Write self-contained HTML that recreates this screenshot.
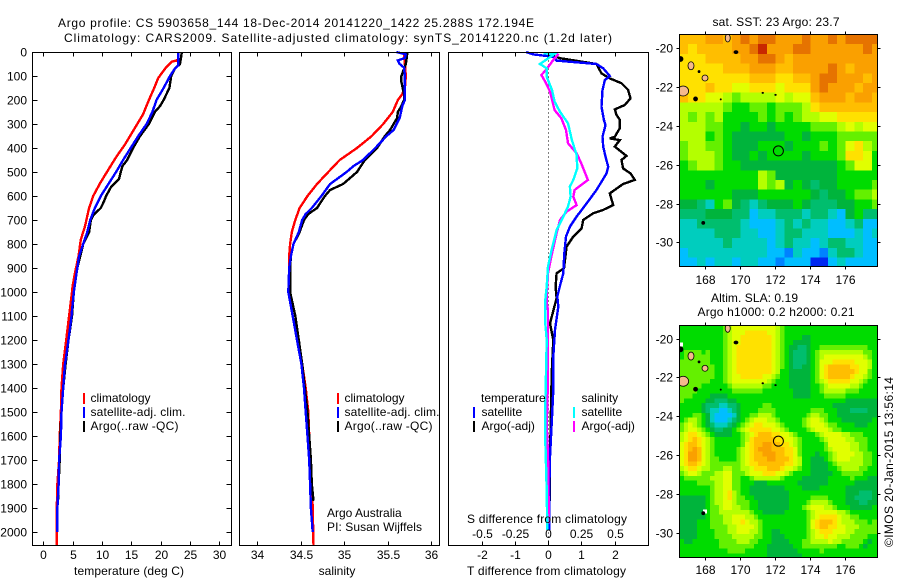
<!DOCTYPE html>
<html>
<head>
<meta charset="utf-8">
<title>Argo profile</title>
<style>
html,body{margin:0;padding:0;background:#fff;}
svg{display:block;}
text{font-family:"Liberation Sans",sans-serif;font-size:12px;fill:#000;}
</style>
</head>
<body>
<svg id="fig" xmlns="http://www.w3.org/2000/svg" width="900" height="580" viewBox="0 0 900 580">
  <rect width="900" height="580" fill="#fff"/>
  <text x="58" y="27" textLength="476">Argo profile: CS 5903658_144 18-Dec-2014 20141220_1422 25.288S 172.194E</text>
  <text x="64" y="42" textLength="548">Climatology: CARS2009. Satellite-adjusted climatology: synTS_20141220.nc (1.2d later)</text>

  <g id="p1"></g>
  <g id="p2"></g>
  <g id="p3"></g>
  <g id="m1"></g>
  <g id="m2"></g>

  <text x="129" y="575" text-anchor="middle" textLength="110">temperature (deg C)</text>
  <text x="337" y="575" text-anchor="middle">salinity</text>
  <text x="467" y="575" textLength="159">T difference from climatology</text>
  <text x="467" y="523" textLength="160">S difference from climatology</text>

  <g>
    <rect x="83" y="393" width="2" height="11" fill="#f00"/>
    <rect x="83" y="407" width="2" height="11" fill="#00f"/>
    <rect x="83" y="421" width="2" height="11" fill="#000"/>
    <text x="90.5" y="402">climatology</text>
    <text x="90.5" y="416" textLength="95">satellite-adj. clim.</text>
    <text x="90.5" y="430" textLength="88">Argo(..raw -QC)</text>
  </g>
  <g>
    <rect x="337" y="393" width="2" height="11" fill="#f00"/>
    <rect x="337" y="407" width="2" height="11" fill="#00f"/>
    <rect x="337" y="421" width="2" height="11" fill="#000"/>
    <text x="344.5" y="402">climatology</text>
    <text x="344.5" y="416" textLength="95">satellite-adj. clim.</text>
    <text x="344.5" y="430" textLength="88">Argo(..raw -QC)</text>
    <text x="327" y="517">Argo Australia</text>
    <text x="327" y="531" textLength="95">PI: Susan Wijffels</text>
  </g>
  <g>
    <text x="481" y="402">temperature</text>
    <rect x="473" y="407" width="2" height="11" fill="#00f"/>
    <rect x="473" y="421" width="2" height="11" fill="#000"/>
    <text x="481.5" y="416">satellite</text>
    <text x="481.5" y="430">Argo(-adj)</text>
    <text x="581.5" y="402">salinity</text>
    <rect x="573" y="407" width="2" height="11" fill="#0ff"/>
    <rect x="573" y="421" width="2" height="11" fill="#f0f"/>
    <text x="581.5" y="416">satellite</text>
    <text x="581.5" y="430">Argo(-adj)</text>
  </g>

  <text x="712.5" y="26" textLength="127">sat. SST: 23 Argo: 23.7</text>
  <text x="711" y="302" textLength="87">Altim. SLA: 0.19</text>
  <text x="697.5" y="316" textLength="157">Argo h1000: 0.2 h2000: 0.21</text>
  <text transform="translate(893,547) rotate(-90)" textLength="170">©IMOS 20-Jan-2015 13:56:14</text>
</svg>
<script>
/* ---------- chart data ---------- */
const depthTicks = [0,100,200,300,400,500,600,700,800,900,1000,1100,1200,1300,1400,1500,1600,1700,1800,1900,2000];
const tempTicks = [0,5,10,15,20,25,30];
const salTicks = [34,34.5,35,35.5,36];
const tDiffTicks = [-2,-1,0,1,2];
const sDiffTicks = [-0.5,-0.25,0,0.25,0.5];
const sDiffTickLabels = ["-0.5","-0.25","0","0.25","0.5"];
const lonTicks = [168,170,172,174,176];
const latTicks = [-20,-22,-24,-26,-28,-30];

const tempDepthClim = [0,30,36,40,65,108,150,200,260,317,386,435,490,546,600,650,726,782,851,920,976,1000,1100,1200,1300,1400,1500,1600,1700,1800,1900,2000,2055];
const tempClim = [23.0,23.0,22.7,21.9,20.9,19.6,18.9,18.0,17.0,15.6,13.9,12.5,11.1,9.7,8.5,7.8,7.1,6.4,6.0,5.4,5.0,4.9,4.4,3.9,3.4,3.1,3.0,2.8,2.7,2.4,2.3,2.3,2.3];
const tempDepthSat = [0,55,70,100,150,200,250,300,350,400,450,500,550,600,650,700,750,800,850,900,1000,1100,1200,1300,1400,1500,1600,1700,1800,1900,2000];
const tempSat = [23,23,22.4,21.6,20.5,19.3,18.6,17.6,16.2,14.9,13.6,12.4,11.1,9.8,8.8,8,7.5,6.8,6.1,5.8,5.2,4.8,4.3,3.7,3.4,3.1,3,2.7,2.6,2.4,2.4];
const tempDepthArgo = [0,20,50,70,100,150,200,225,250,300,350,400,450,475,500,530,560,600,625,650,680,700,750,800,900,1000,1100,1200,1300,1400,1500,1600,1700,1800,1870];
const tempArgo = [23.6,23.5,23.3,22.4,21.8,21.5,20.5,19.9,19,18,16.5,15.3,14.3,13.5,13.2,12.9,11.6,10.7,10.3,9.8,8.5,8.1,7.8,6.8,5.8,5.2,4.9,4.3,3.8,3.4,3.1,2.9,2.8,2.6,2.5];

const salDepthClim = [0,100,150,175,200,250,300,350,400,450,500,550,600,650,700,750,800,850,950,1000,1100,1200,1300,1400,1500,1600,1700,1800,1900,2055];
const salClim = [35.69,35.71,35.70,35.67,35.62,35.56,35.45,35.32,35.15,34.95,34.82,34.69,34.58,34.49,34.44,34.40,34.38,34.37,34.37,34.38,34.44,34.48,34.52,34.56,34.59,34.60,34.62,34.63,34.64,34.65];
const salDepthSat = [0,10,25,35,50,65,100,200,225,275,325,350,400,450,475,500,550,600,650,675,700,750,800,850,900,1000,1100,1200,1300,1400,1500,1600,1700,1800,1900,2000];
const salSat = [35.60,35.71,35.70,35.62,35.64,35.69,35.70,35.70,35.67,35.64,35.57,35.49,35.36,35.22,35.11,35.03,34.84,34.74,34.63,34.56,34.52,34.48,34.42,34.39,34.37,34.36,34.41,34.46,34.51,34.54,34.56,34.58,34.60,34.61,34.62,34.64];
const salDepthArgo = [0,50,100,125,175,200,225,250,275,300,325,350,400,450,500,525,550,575,600,650,675,700,750,800,850,900,1000,1100,1200,1300,1400,1500,1600,1700,1800,1870];
const salArgo = [35.73,35.71,35.66,35.66,35.69,35.69,35.66,35.62,35.61,35.57,35.53,35.47,35.38,35.24,35.15,35.07,34.99,34.84,34.78,34.69,34.59,34.54,34.49,34.42,34.39,34.38,34.38,34.44,34.48,34.52,34.55,34.58,34.60,34.62,34.63,34.65];

const diffDepthTSat = [0,10,20,36,50,68,100,117,158,228,283,304,353,394,436,478,506,575,631,686,728,769,839,922,964,1019,1061,1158,1269,1408,1547,1686,1825,1992];
const diffTSat = [-0.66,-0.44,0.16,0.26,1.46,1.66,1.86,1.71,1.64,1.61,1.68,1.73,1.64,1.66,1.73,1.81,1.76,1.46,1.16,0.86,0.66,0.54,0.49,0.46,0.38,0.28,0.31,0.21,0.16,0.16,0.11,0.06,0.04,0.04];
const diffDepthTArgo = [12,26,50,89,110,130,158,193,221,239,262,283,318,353,360,367,394,433,450,485,506,533,550,589,638,658,672,700,735,769,811,867,901,922,978,1026,1131,1200,1339,1547,1686,1870];
const diffTArgo = [0.06,0.36,1.46,1.61,1.86,2.21,2.41,2.48,2.31,2.01,2.06,2.16,2.16,2.01,1.86,2.16,2.01,2.36,2.21,2.26,2.48,2.61,2.26,1.86,1.96,1.66,1.36,1.06,1.01,0.76,0.56,0.51,0.48,0.26,0.23,0.26,0.06,0.16,0.11,0.08,0.06,0.05];
const diffDepthSSat = [6,8,50,68,103,158,207,249,297,367,429,485,533,561,603,644,686,742,818,894,978,1033,1061,1131,1200,1339,1478,1617,1825,1992];
const diffSSat = [-0.035,0.05,-0.06,-0.01,-0.01,0.03,0.05,0.09,0.15,0.18,0.215,0.22,0.19,0.165,0.17,0.15,0.115,0.065,0.03,0,-0.01,-0.02,-0.02,-0.02,-0.01,-0.015,-0.02,-0.02,-0.01,-0.005];
const diffDepthSArgo = [8,33,75,96,124,165,242,276,325,380,422,464,533,575,603,638,665,700,756,839,922,1019,1047,1075,1200,1339,1478,1547,1686,1894,1964];
const diffSArgo = [0.08,0.04,-0.015,-0.05,-0.02,0.015,0.05,0.10,0.135,0.15,0.215,0.25,0.30,0.2,0.19,0.215,0.14,0.09,0.065,0.03,0,-0.01,-0.01,0,0,0,-0.005,-0.01,0,0.005,0.005];

/* map values are colour-scale levels 0 (lowest) to 15, rows run north to south */
const sstLevels = [
[12,12,12,13,13,12,13,14,13,14,14,13,13,13,14,13,13,14,13,14,14,14,14],
[12,11,12,12,12,12,13,13,14,15,13,13,13,14,14,13,13,13,13,13,13,14,13],
[11,11,11,12,12,12,12,13,13,14,14,13,12,13,13,13,13,13,13,13,13,13,13],
[11,11,11,11,11,12,12,12,13,13,13,12,12,13,13,13,13,14,13,12,13,13,13],
[11,11,11,11,11,11,11,11,12,12,12,11,11,12,12,13,14,14,13,13,13,12,13],
[11,11,11,12,11,11,10,10,11,11,11,10,11,11,11,13,14,13,13,13,12,13,13],
[12,11,11,10,10,9,8,9,9,9,9,10,9,10,10,12,13,13,13,12,13,13,12],
[9,9,9,9,9,8,7,7,8,8,7,8,8,8,9,11,12,12,12,12,12,12,12],
[9,8,9,8,9,7,7,7,7,8,7,8,7,8,9,9,10,10,11,11,11,11,11],
[9,9,9,8,8,7,7,6,7,7,6,7,7,7,7,8,8,8,9,10,9,10,10],
[9,9,9,7,8,7,6,6,6,6,6,6,7,7,6,7,7,7,8,8,8,8,8],
[8,9,9,8,8,7,6,6,6,7,7,7,6,7,7,7,8,7,8,10,11,9,8],
[8,9,9,9,8,7,6,6,7,6,7,7,7,7,6,7,7,7,8,11,11,10,7],
[7,8,9,9,8,7,7,6,6,6,6,6,6,6,6,6,6,6,7,8,10,10,7],
[7,7,7,7,7,7,7,7,7,9,8,6,6,6,6,6,6,6,7,7,7,7,7],
[7,7,7,6,7,7,7,7,7,9,8,9,6,7,6,5,6,6,7,7,7,7,8],
[7,7,7,7,7,7,6,6,6,7,7,7,7,7,7,6,5,6,6,7,8,8,9],
[6,6,5,4,7,8,6,5,4,5,6,6,6,7,6,5,5,5,6,6,7,7,8],
[5,5,5,6,6,6,5,5,3,4,4,5,5,5,4,5,5,4,3,6,7,5,5],
[4,4,5,5,5,5,5,4,3,3,3,4,5,4,5,4,4,3,3,4,5,3,3],
[4,4,4,4,5,5,5,4,4,3,3,4,5,5,4,4,4,3,3,3,4,3,4],
[4,4,4,4,4,5,4,4,4,4,3,4,5,4,4,3,4,5,5,4,4,3,3],
[3,4,4,4,4,4,4,4,4,4,3,3,2,4,3,3,2,4,5,5,4,3,3],
[3,3,4,3,4,4,3,4,4,3,3,2,3,3,3,1,1,3,4,3,3,3,3]
];
const slaLevels = [
[7,7,7,7,7,7,7,7,7,7,8,9,10,10,10,10,10,10,10,10,10,10,9,8,7,7,7,7,7,7,7,7,7,7,7,7,7,7,7,7,7,7,7,7,7],
[7,7,7,7,7,7,7,7,7,7,8,9,10,10,10,11,11,11,11,11,10,10,9,8,7,7,7,7,7,7,7,7,7,7,7,7,7,7,7,7,7,7,7,7,7],
[7,7,7,7,7,7,7,7,7,7,8,9,10,10,11,11,11,11,11,11,11,10,9,8,7,7,7,7,6,6,7,7,7,7,7,7,7,7,7,7,7,7,7,7,7],
[7,7,7,7,7,7,7,7,7,7,8,9,10,10,11,11,11,11,11,11,11,10,9,8,7,7,6,6,6,6,7,7,7,7,7,7,7,7,7,7,7,7,7,7,7],
[7,7,7,7,7,7,7,7,7,7,8,9,10,11,11,11,11,11,11,11,11,10,9,8,7,6,6,5,5,6,7,7,8,8,8,8,8,8,8,8,8,8,8,7,7],
[7,8,8,8,8,7,8,7,7,7,8,9,10,11,11,11,11,11,11,11,11,10,9,8,7,6,5,5,5,6,7,8,9,9,9,9,9,9,9,9,9,9,8,8,7],
[7,8,8,8,8,8,8,7,7,7,8,9,10,11,11,11,11,11,11,11,11,10,9,8,7,6,5,5,5,6,7,8,9,10,10,10,10,10,10,10,10,10,9,8,7],
[8,8,8,8,8,8,8,7,7,7,8,9,10,11,11,11,11,11,11,11,11,10,9,8,7,6,5,5,5,6,7,8,10,10,10,11,11,11,11,11,10,10,10,9,7],
[8,8,8,8,8,8,8,8,7,7,8,9,10,11,11,11,11,11,11,11,11,10,9,8,7,6,5,5,6,6,7,8,10,11,12,12,12,12,12,11,11,10,10,9,7],
[8,8,8,8,8,8,8,8,7,7,8,9,10,11,11,11,11,11,11,11,11,10,9,7,7,6,6,6,6,6,7,8,10,11,12,12,12,12,12,12,11,10,10,8,7],
[8,8,8,8,8,8,8,8,7,7,8,9,10,10,11,11,11,11,11,10,10,9,8,7,7,6,6,6,6,6,7,8,10,11,12,12,12,12,12,11,10,10,9,8,7],
[8,8,8,8,8,8,8,7,7,7,8,9,10,10,10,10,10,10,10,10,9,8,7,7,7,6,6,6,6,6,7,8,9,10,11,11,11,11,11,10,10,9,8,7,7],
[8,8,8,8,8,7,7,7,7,7,7,8,9,9,9,9,9,9,9,8,8,7,7,7,7,6,6,6,6,6,7,7,8,9,10,10,10,10,10,9,9,8,7,7,7],
[8,8,8,8,7,7,7,7,7,7,7,7,8,8,8,8,8,8,8,7,7,7,7,7,7,7,6,6,6,6,7,7,8,9,9,9,9,9,8,8,8,7,7,7,7],
[8,8,8,7,7,7,7,6,6,6,6,7,7,7,7,7,7,7,7,7,7,7,7,7,7,7,6,6,6,6,7,7,7,8,8,8,8,8,7,7,7,7,7,7,7],
[8,7,7,7,7,7,6,6,5,5,5,6,6,7,7,7,7,7,7,7,7,7,7,7,7,7,7,7,7,7,7,7,7,7,7,7,7,7,6,6,6,6,6,6,6],
[7,7,7,7,7,6,5,5,5,4,4,5,5,6,7,7,7,7,7,8,8,7,7,7,7,7,7,7,7,7,7,7,7,7,7,6,6,6,6,6,6,6,6,6,6],
[7,7,7,7,7,6,5,4,4,3,3,4,5,6,7,7,7,7,8,8,8,8,7,7,7,7,7,7,7,7,8,8,8,7,7,7,6,6,6,5,5,5,5,6,6],
[7,7,7,8,8,7,6,4,3,3,3,3,4,6,7,7,8,8,9,9,9,8,7,7,7,7,7,7,7,8,9,9,8,8,7,7,6,6,6,6,6,6,6,6,6],
[7,8,9,9,8,7,6,4,3,3,3,4,5,6,7,8,9,10,10,10,9,9,8,7,7,7,7,7,8,9,10,10,9,8,7,7,7,6,6,6,6,6,6,6,7],
[8,9,10,9,8,7,6,5,4,4,4,5,6,7,8,9,10,11,11,10,10,10,9,8,7,7,7,7,8,9,10,10,10,9,8,8,7,7,7,7,6,6,6,7,7],
[8,9,10,10,9,8,7,6,5,5,6,6,7,8,9,10,11,11,11,11,11,10,10,9,8,7,7,7,7,8,9,10,10,10,9,8,8,7,7,7,7,7,7,7,7],
[9,10,11,11,10,9,8,7,6,6,6,6,7,7,8,9,10,11,12,12,12,11,11,10,10,9,8,7,7,7,7,8,9,10,10,10,10,9,9,8,8,8,7,7,7],
[9,10,11,12,11,10,9,8,7,7,7,7,7,7,8,9,11,12,12,12,12,12,11,11,10,10,9,8,7,7,7,7,8,9,10,10,10,10,9,9,8,8,8,7,7],
[10,11,12,12,11,10,9,8,7,7,7,7,7,7,8,10,11,12,12,13,13,12,12,11,11,10,9,8,7,7,7,7,7,8,10,10,10,10,10,9,9,8,8,7,7],
[10,11,12,13,12,10,9,8,7,7,7,7,7,8,9,10,11,12,13,13,13,12,12,12,11,11,10,8,7,7,7,7,7,8,9,10,10,10,10,9,9,8,8,7,7],
[10,11,13,13,12,10,9,8,7,7,7,7,7,8,9,10,11,12,12,13,13,13,12,12,11,11,10,8,7,7,7,6,7,7,8,9,10,10,10,10,9,9,8,8,7],
[10,11,13,13,12,10,9,8,8,7,7,7,7,8,9,10,11,12,12,12,13,13,12,12,12,11,10,9,7,7,6,6,6,7,8,9,10,10,10,9,9,9,8,8,7],
[10,11,12,12,11,10,9,8,8,8,8,8,8,8,9,10,11,11,12,12,12,12,12,12,11,11,10,9,7,7,6,6,6,6,7,8,9,9,9,9,9,9,8,8,7],
[9,10,11,11,10,9,9,8,8,8,9,9,8,8,9,9,10,11,11,11,12,12,12,11,10,10,9,8,7,7,6,6,6,6,7,7,8,9,9,9,9,8,8,7,7],
[8,9,10,10,9,8,8,8,9,9,10,10,8,8,8,9,10,10,10,11,11,11,10,10,9,8,7,7,7,7,6,6,6,6,6,7,7,8,8,8,8,8,7,7,7],
[7,8,8,8,8,8,8,9,9,9,10,10,8,8,7,7,8,9,9,9,9,9,9,8,7,7,7,7,6,6,6,6,6,6,7,7,7,7,7,8,7,7,7,6,6],
[7,7,7,7,8,8,8,8,9,9,10,10,8,8,7,7,7,6,6,6,7,7,7,7,7,7,7,6,6,6,6,6,6,6,7,7,7,7,7,7,6,6,6,6,6],
[7,7,7,7,7,7,7,8,9,9,10,10,8,8,7,7,6,6,6,6,6,6,6,6,7,7,7,7,6,6,6,6,7,7,7,7,7,7,6,6,6,6,6,6,6],
[7,7,7,7,7,7,7,8,9,9,10,11,9,8,7,7,6,6,6,6,6,6,6,6,6,7,7,7,7,7,7,7,7,7,7,7,7,7,6,6,6,5,5,5,6],
[6,6,6,6,6,6,7,8,9,9,10,11,9,8,8,7,7,6,6,6,6,6,6,6,6,7,7,7,7,7,8,8,8,8,7,7,7,7,6,6,5,5,5,5,6],
[6,6,6,6,6,6,7,8,9,9,10,10,9,8,8,8,7,7,6,6,6,6,6,6,6,7,7,7,7,8,9,9,9,9,8,7,7,7,6,6,6,5,5,6,6],
[6,6,6,6,6,6,7,8,8,9,10,10,9,9,8,8,7,7,6,6,6,6,6,6,6,7,7,7,8,9,10,10,10,9,9,8,7,7,7,6,6,6,6,6,7],
[6,6,6,6,6,6,7,8,8,9,9,9,9,9,9,9,8,7,7,6,6,6,6,6,7,7,7,7,7,8,9,10,10,10,10,10,9,9,8,7,7,7,7,7,7],
[6,6,6,6,6,6,7,8,8,8,9,9,10,10,10,9,9,8,7,7,7,7,7,7,7,7,7,7,7,8,9,10,11,11,11,11,10,9,9,8,8,7,7,7,7],
[6,6,6,6,7,7,7,8,8,8,9,9,10,10,11,10,9,9,8,7,7,7,7,7,7,7,7,7,7,8,10,11,12,12,12,11,10,9,9,9,8,8,8,7,8],
[6,6,6,6,7,7,7,8,8,8,8,9,9,10,10,10,10,9,8,7,7,7,7,7,7,7,7,7,7,8,10,11,12,12,11,11,10,10,9,9,9,8,8,8,8],
[6,6,6,6,7,7,7,7,8,8,8,9,9,10,10,10,9,9,8,7,7,6,6,7,7,7,7,7,7,8,9,10,11,11,11,10,10,10,9,9,8,8,8,8,8],
[6,6,6,6,7,7,7,7,8,8,8,8,9,9,9,9,9,8,8,7,7,6,6,6,7,7,7,7,7,8,9,10,10,11,10,10,9,9,9,8,8,8,8,7,7],
[7,6,6,7,7,7,7,7,7,8,8,8,8,9,9,9,8,8,7,7,7,6,6,6,6,7,7,7,8,8,9,9,9,9,10,9,9,8,8,8,8,8,7,6,7],
[7,7,7,7,7,7,7,7,7,8,8,8,8,8,8,8,8,7,7,7,6,6,6,6,6,6,7,7,8,8,8,8,8,8,8,8,7,7,8,8,8,7,6,7,7],
[7,7,7,7,7,7,7,7,7,7,7,8,8,8,8,7,7,7,7,7,6,6,6,6,6,6,6,7,7,7,7,7,8,7,7,7,7,7,7,7,7,7,7,7,7],
[7,7,7,7,7,7,7,7,7,7,7,7,7,7,7,7,7,7,7,7,6,6,6,6,6,6,6,6,7,7,7,7,7,7,7,7,7,7,7,7,7,7,7,7,7]
];
const floatLon = 172.194;
const floatLat = -25.288;
const islandLons = [167.2,167.66,168.0,166.6,169.3,169.77,166.75,167.46,167.9,171.3,172.03,168.9];
const islandLats = [-20.9,-21.2,-21.53,-20.55,-19.47,-20.2,-22.2,-22.61,-29.0,-22.3,-22.4,-22.63];
const islandRx = [3,1,3,2.5,2.5,2,5.5,2,1.5,0.8,0.8,0.6];
const islandRy = [4,1,3,2.5,4,1.5,5,2,1.5,0.6,0.6,0.6];
const islandKind = ["land","rock","land","rock","land","rock","land","rock","rock","rock","rock","rock"];
const slaGapLons = [168.0,166.62];
const slaGapLats = [-28.9,-20.3];

/* ---------- axes ---------- */
const depthY = d => 52 + d * 0.24;
const tempX = t => 43.3 + t * 5.867;
const salX = s => 257 + (s - 34) * 87;
const tDiffX = t => 548 + t * 33.25;
const sDiffX = s => 548 + s * 133;
const lonX = lon => 705 + (lon - 168) * 17.5;
const latY1 = lat => 48.3 + (-20 - lat) * 19.4;
const latY2 = lat => 338.6 + (-20 - lat) * 19.4;
const colorScale = ["rgb(0,0,170)","rgb(0,40,240)","rgb(0,130,255)","rgb(0,190,255)","rgb(0,205,190)","rgb(0,190,110)","rgb(0,180,60)","rgb(0,220,0)","rgb(100,240,0)","rgb(180,255,0)","rgb(225,255,0)","rgb(255,225,0)","rgb(255,190,0)","rgb(250,160,0)","rgb(230,115,0)","rgb(200,40,0)"];
const NS = "http://www.w3.org/2000/svg";
const make = tag => document.createElementNS(NS, tag);

function drawFrame(parent, x0, x1, y0, y1) {
  const r = make("rect");
  
  
  r.setAttribute("x", x0); r.setAttribute("y", y0);
  r.setAttribute("width", x1 - x0); r.setAttribute("height", y1 - y0);
  r.setAttribute("fill", "none"); r.setAttribute("stroke", "#000");
  r.setAttribute("shape-rendering", "crispEdges");
  parent.appendChild(r);
}
function drawTick(parent, x1, y1, x2, y2) {
  const l = make("line");
  
  
  l.setAttribute("x1", x1); l.setAttribute("y1", y1);
  l.setAttribute("x2", x2); l.setAttribute("y2", y2);
  l.setAttribute("stroke", "#000");
  l.setAttribute("shape-rendering", "crispEdges");
  parent.appendChild(l);
}
function drawLabel(parent, x, y, str, anchor) {
  const t = make("text");
  
  
  t.setAttribute("x", x); t.setAttribute("y", y);
  t.setAttribute("text-anchor", anchor);
  t.textContent = str;
  parent.appendChild(t);
}
function drawSeries(parent, name, depths, values, xScale, color, width) {
  const p = make("polyline");
  
  
  p.setAttribute("points", depths.map((d, i) => xScale(values[i]).toFixed(1) + "," + depthY(d).toFixed(1)).join(" "));
  p.setAttribute("fill", "none");
  p.setAttribute("stroke", color);
  p.setAttribute("stroke-width", width);
  p.setAttribute("shape-rendering", "crispEdges");
  parent.appendChild(p);
}

const TOP = 52.5, BOT = 545.5, LW = 2.4;

/* temperature panel */
const p1 = document.getElementById("p1");
drawSeries(p1, "temperature-climatology-line", tempDepthClim, tempClim, tempX, "#f00", LW);
drawSeries(p1, "temperature-argo-line", tempDepthArgo, tempArgo, tempX, "#000", LW);
drawSeries(p1, "temperature-satellite-line", tempDepthSat, tempSat, tempX, "#00f", LW);
drawFrame(p1, 32.5, 231.5, TOP, BOT);
depthTicks.forEach(d => {
  const y = Math.round(depthY(d)) + 0.5;
  drawTick(p1, 32.5, y, 37.5, y);
  drawTick(p1, 231.5, y, 226.5, y);
  drawLabel(p1, 27, y + 4, String(d), "end");
});
tempTicks.forEach(t => {
  const x = Math.round(tempX(t)) + 0.5;
  drawTick(p1, x, TOP, x, TOP + 4);
  drawTick(p1, x, BOT, x, BOT - 4);
  drawLabel(p1, x, 559, String(t), "middle");
});

/* salinity panel */
const p2 = document.getElementById("p2");
drawSeries(p2, "salinity-climatology-line", salDepthClim, salClim, salX, "#f00", LW);
drawSeries(p2, "salinity-argo-line", salDepthArgo, salArgo, salX, "#000", LW);
drawSeries(p2, "salinity-satellite-line", salDepthSat, salSat, salX, "#00f", LW);
drawFrame(p2, 239.5, 439.5, TOP, BOT);
salTicks.forEach(s => {
  const x = Math.round(salX(s)) + 0.5;
  drawTick(p2, x, TOP, x, TOP + 4);
  drawTick(p2, x, BOT, x, BOT - 4);
  drawLabel(p2, x, 559, String(s), "middle");
});

/* difference panel */
const p3 = document.getElementById("p3");
const zeroLine = make("line");


zeroLine.setAttribute("x1", tDiffX(0) + 0.5); zeroLine.setAttribute("x2", tDiffX(0) + 0.5);
zeroLine.setAttribute("y1", TOP); zeroLine.setAttribute("y2", BOT);
zeroLine.setAttribute("stroke", "#000");
zeroLine.setAttribute("stroke-dasharray", "1 3");
zeroLine.setAttribute("shape-rendering", "crispEdges");
p3.appendChild(zeroLine);
drawSeries(p3, "t-difference-argo-line", diffDepthTArgo, diffTArgo, tDiffX, "#000", LW);
drawSeries(p3, "t-difference-satellite-line", diffDepthTSat, diffTSat, tDiffX, "#00f", LW);
drawSeries(p3, "s-difference-argo-line", diffDepthSArgo, diffSArgo, sDiffX, "#f0f", LW);
drawSeries(p3, "s-difference-satellite-line", diffDepthSSat, diffSSat, sDiffX, "#0ff", LW);
drawFrame(p3, 448.5, 648.5, TOP, BOT);
tDiffTicks.forEach(t => {
  const x = Math.round(tDiffX(t)) + 0.5;
  drawTick(p3, x, BOT, x, BOT - 4);
  drawLabel(p3, x, 559, String(t), "middle");
});
sDiffTicks.forEach((s, i) => {
  const x = Math.round(sDiffX(s)) + 0.5;
  drawTick(p3, x, TOP, x, TOP + 4);
  drawLabel(p3, x, 538, sDiffTickLabels[i], "middle");
});

/* maps */
function drawMap(id, levels, step, latY, top, bottom, labelY, cellName, gapLons, gapLats) {
  const g = document.getElementById(id);
  const clip = make("clipPath");
  clip.setAttribute("id", id + "-clip");
  const clipRect = make("rect");
  clipRect.setAttribute("x", 679.5); clipRect.setAttribute("y", top);
  clipRect.setAttribute("width", 198); clipRect.setAttribute("height", bottom - top);
  clip.appendChild(clipRect);
  g.appendChild(clip);
  const cells = make("g");
  
  
  cells.setAttribute("clip-path", "url(#" + id + "-clip)");
  const lon0 = 166.54;
  const lat0 = -20 + (latY(-20) - top) / 19.4;
  levels.forEach((row, r) => {
    row.forEach((v, c) => {
      const rect = make("rect");
      
      
      const x = lonX(lon0 + c * step), y = latY(lat0 - r * step);
      rect.setAttribute("x", x);
      rect.setAttribute("y", y);
      rect.setAttribute("width", lonX(lon0 + (c + 1) * step) - x + 0.5);
      rect.setAttribute("height", latY(lat0 - (r + 1) * step) - y + 0.5);
      rect.setAttribute("fill", colorScale[Math.max(0, Math.min(15, Math.round(v)))]);
      rect.setAttribute("shape-rendering", "crispEdges");
      cells.appendChild(rect);
    });
  });
  gapLons.forEach((lon, i) => {
    const w = make("rect");
    
    
    w.setAttribute("x", lonX(lon) - 2);
    w.setAttribute("y", latY(gapLats[i]) - 2);
    w.setAttribute("width", 4);
    w.setAttribute("height", 4);
    w.setAttribute("fill", "#fff");
    w.setAttribute("shape-rendering", "crispEdges");
    cells.appendChild(w);
  });
  islandLons.forEach((lon, i) => {
    const e = make("ellipse");
    
    
    e.setAttribute("cx", lonX(lon));
    e.setAttribute("cy", latY(islandLats[i]));
    e.setAttribute("rx", islandRx[i]);
    e.setAttribute("ry", islandRy[i]);
    e.setAttribute("fill", islandKind[i] === "land" ? "#f5b98c" : "#000");
    e.setAttribute("stroke", "#000");
    e.setAttribute("stroke-width", "0.8");
    cells.appendChild(e);
  });
  g.appendChild(cells);
  const marker = make("circle");
  
  
  marker.setAttribute("cx", lonX(floatLon));
  marker.setAttribute("cy", latY(floatLat));
  marker.setAttribute("r", 5);
  marker.setAttribute("fill", "none");
  marker.setAttribute("stroke", "#000");
  g.appendChild(marker);
  drawFrame(g, 679.5, 877.5, top, bottom);
  lonTicks.forEach(lon => {
    const x = Math.round(lonX(lon)) + 0.5;
    drawTick(g, x, top, x, top - 3);
    drawTick(g, x, bottom, x, bottom + 3);
    drawLabel(g, x, labelY, String(lon), "middle");
  });
  latTicks.forEach(lat => {
    const y = Math.round(latY(lat)) + 0.5;
    drawTick(g, 679.5, y, 676.5, y);
    drawTick(g, 877.5, y, 880.5, y);
    drawLabel(g, 673, y + 4, String(lat), "end");
  });
}
drawMap("m1", sstLevels, 0.5, latY1, 34.5, 266.5, 284, "sst-cell", [], []);
drawMap("m2", slaLevels, 0.25, latY2, 325.5, 557.5, 574, "sla-cell", slaGapLons, slaGapLats);
</script>
</body>
</html>
